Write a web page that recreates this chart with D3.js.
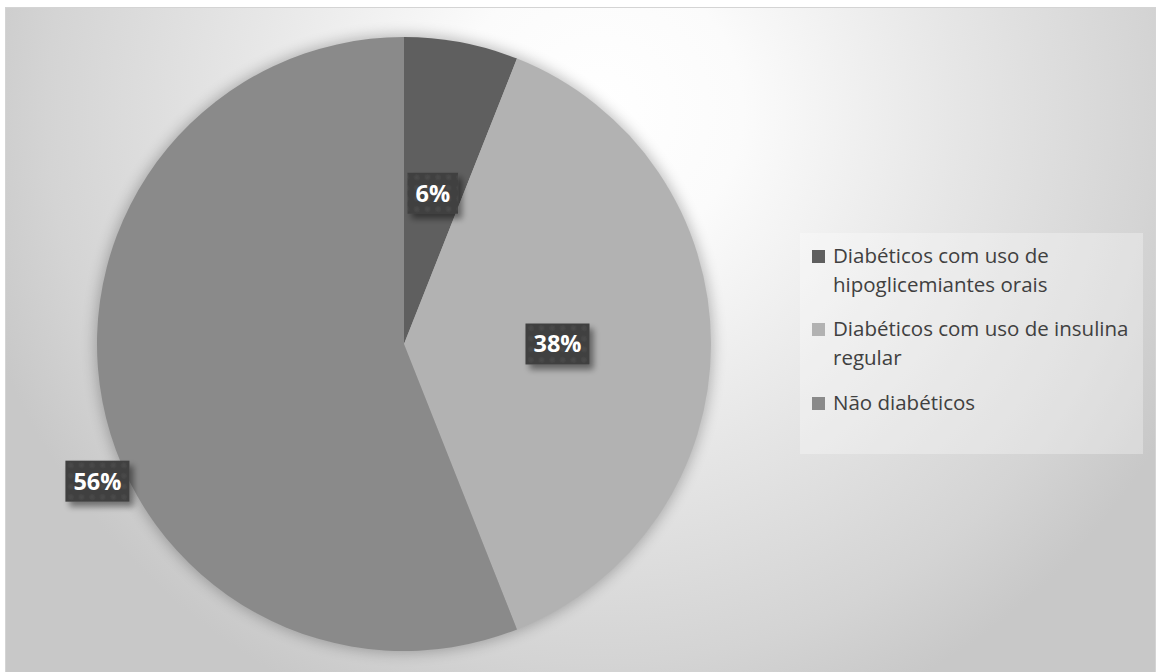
<!DOCTYPE html>
<html>
<head>
<meta charset="utf-8">
<script src="https://cdn.jsdelivr.net/npm/d3@7"></script>
<style>
  html, body { margin: 0; padding: 0; background: #ffffff; }
  svg { display: block; }
</style>
</head>
<body>
<svg id="chart" width="1160" height="672"></svg>
<script>
// Categories and shares (percent)
const categories = [
  "Diabéticos com uso de hipoglicemiantes orais",
  "Diabéticos com uso de insulina regular",
  "Não diabéticos"
];
const values = [6, 38, 56];
// Legend lines as wrapped in the legend box
const legendLines = [
  ["Diabéticos com uso de", "hipoglicemiantes orais"],
  ["Diabéticos com uso de insulina", "regular"],
  ["Não diabéticos"]
];
const sliceColors = ["#5f5f5f", "#b2b2b2", "#8a8a8a"];

// Label placement: fraction along the slice angle and radius fraction
const labelAngleFrac = [0.5, 0.5, 0.434];
const labelRadiusFrac = [0.5, 0.5, 1.094];

const W = 1160, H = 672;
const svg = d3.select("#chart");
const defs = svg.append("defs");

// Chart area background gradient
const bg = defs.append("radialGradient")
  .attr("id", "bgGrad")
  .attr("gradientUnits", "userSpaceOnUse")
  .attr("cx", 600).attr("cy", 110).attr("r", 650);
bg.append("stop").attr("offset", "0").attr("stop-color", "#ffffff");
bg.append("stop").attr("offset", "0.22").attr("stop-color", "#fbfbfb");
bg.append("stop").attr("offset", "0.55").attr("stop-color", "#e6e6e6");
bg.append("stop").attr("offset", "0.85").attr("stop-color", "#d4d4d4");
bg.append("stop").attr("offset", "1").attr("stop-color", "#c8c8c8");

// Soft halo around the pie
const halo = defs.append("filter").attr("id", "halo")
  .attr("x", "-20%").attr("y", "-20%").attr("width", "140%").attr("height", "140%");
halo.append("feGaussianBlur").attr("stdDeviation", 7);

// Label box shadow
const shadow = defs.append("filter").attr("id", "boxShadow")
  .attr("x", "-30%").attr("y", "-30%").attr("width", "170%").attr("height", "180%");
shadow.append("feGaussianBlur").attr("in", "SourceAlpha").attr("stdDeviation", 3).attr("result", "b");
shadow.append("feOffset").attr("in", "b").attr("dx", 4).attr("dy", 5).attr("result", "o");
shadow.append("feComponentTransfer").attr("in", "o").attr("result", "s")
  .append("feFuncA").attr("type", "linear").attr("slope", 0.45);
const merge = shadow.append("feMerge");
merge.append("feMergeNode").attr("in", "s");
merge.append("feMergeNode").attr("in", "SourceGraphic");

// Subtle dotted texture for label boxes
const dotGrad = defs.append("radialGradient").attr("id", "dotGrad");
dotGrad.append("stop").attr("offset", "0").attr("stop-color", "#4c4c4c");
dotGrad.append("stop").attr("offset", "1").attr("stop-color", "#404040");
const pat = defs.append("pattern").attr("id", "boxTex")
  .attr("patternUnits", "userSpaceOnUse").attr("width", 10.6).attr("height", 10.6);
pat.append("rect").attr("width", 10.6).attr("height", 10.6).attr("fill", "#404040");
pat.append("circle").attr("cx", 5.3).attr("cy", 5.3).attr("r", 4).attr("fill", "url(#dotGrad)");

// Chart area
svg.append("rect")
  .attr("x", 5.5).attr("y", 7.5).attr("width", 1150).attr("height", 670)
  .attr("fill", "url(#bgGrad)")
  .attr("stroke", "#d4d4d4").attr("stroke-width", 1);

// Pie
const cx = 404, cy = 344, R = 307;
const g = svg.append("g").attr("transform", `translate(${cx},${cy})`);

g.append("circle").attr("r", R + 2).attr("fill", "#000").attr("opacity", 0.25)
  .attr("filter", "url(#halo)");

const pie = d3.pie().sort(null).value(d => d);
const arcs = pie(values);
const arc = d3.arc().innerRadius(0).outerRadius(R);

g.selectAll("path.slice").data(arcs).join("path")
  .attr("class", "slice")
  .attr("d", arc)
  .attr("fill", (d, i) => sliceColors[i]);

// Data labels
const fmt = d => d + "%";
const labels = g.selectAll("g.lbl").data(arcs).join("g").attr("class", "lbl")
  .attr("transform", (d, i) => {
    const a = d.startAngle + (d.endAngle - d.startAngle) * labelAngleFrac[i];
    const r = R * labelRadiusFrac[i];
    return `translate(${r * Math.sin(a)},${-r * Math.cos(a)})`;
  });

labels.each(function (d) {
  const sel = d3.select(this);
  const t = sel.append("text")
    .attr("text-anchor", "middle")
    .attr("dy", "0.36em")
    .attr("font-family", "'Open Sans', sans-serif")
    .attr("font-weight", "bold")
    .attr("font-size", 23.5)
    .attr("fill", "#ffffff")
    .text(fmt(d.data));
  const bb = t.node().getBBox();
  const padX = 8, h = 41;
  sel.insert("rect", "text")
    .attr("x", -bb.width / 2 - padX).attr("y", -h / 2)
    .attr("width", bb.width + padX * 2).attr("height", h)
    .attr("fill", "url(#boxTex)")
    .attr("filter", "url(#boxShadow)");
});

// Legend
const legend = svg.append("g");
legend.append("rect")
  .attr("x", 800).attr("y", 233).attr("width", 343).attr("height", 221)
  .attr("fill", "#ffffff").attr("opacity", 0.3);

const lineH = 28.5;
const itemBaselines = [263, 336, 410];
legendLines.forEach((lines, i) => {
  const item = legend.append("g");
  item.append("rect")
    .attr("x", 812).attr("y", itemBaselines[i] - 13)
    .attr("width", 13).attr("height", 13)
    .attr("fill", sliceColors[i]);
  const t = item.append("text")
    .attr("x", 833).attr("y", itemBaselines[i])
    .attr("font-family", "'Open Sans', sans-serif")
    .attr("font-size", 20.5)
    .attr("fill", "#404040");
  lines.forEach((ln, j) => {
    t.append("tspan").attr("x", 833).attr("y", itemBaselines[i] + j * lineH).text(ln);
  });
});
</script>
</body>
</html>
